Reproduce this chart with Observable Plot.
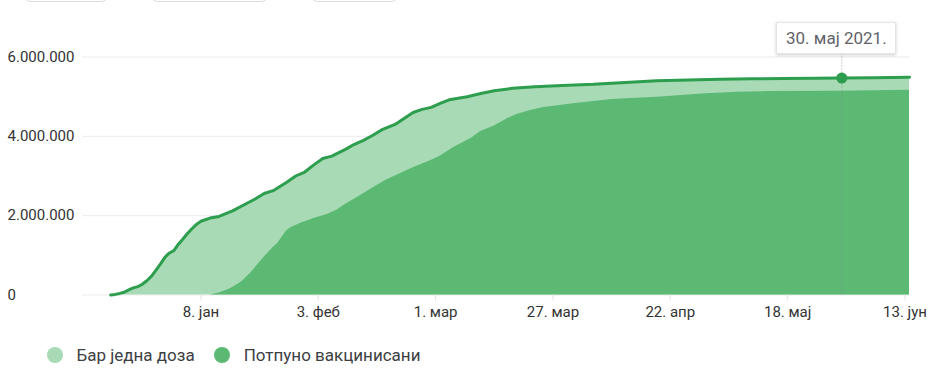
<!DOCTYPE html>
<html>
<head>
<meta charset="utf-8">
<script src="https://cdn.jsdelivr.net/npm/d3@7"></script>
<script src="https://cdn.jsdelivr.net/npm/@observablehq/plot@0.6"></script>
<style>
  html, body { margin: 0; padding: 0; background: #fff; }
  body { width: 940px; height: 374px; overflow: hidden; font-family: Roboto, "Noto Sans", sans-serif; }
  #wrap { position: relative; width: 940px; height: 374px; }
  .btn { position: absolute; top: -30px; height: 32px; border: 1px solid #dadce0; border-radius: 8px; box-sizing: border-box; background: #fff; }
  #tip { position: absolute; height: 32px; box-sizing: border-box; background: #fff; border: 1px solid #e6e6e6;
         box-shadow: 0 1px 3px rgba(60,64,67,0.25); color: #5f6368; font-size: 17px; line-height: 30px; text-align: center; white-space: nowrap; }
  #legend { position: absolute; left: 46.5px; top: 344px; height: 22px; display: flex; align-items: center; font-size: 17px; color: #3c4043; }
  .sw { width: 16px; height: 16px; border-radius: 50%; display: inline-block; margin-right: 14px; }
  .item { display: flex; align-items: center; margin-right: 19px; }
</style>
</head>
<body>
<div id="wrap">
  <div class="btn" style="left:23px;width:86px"></div>
  <div class="btn" style="left:150px;width:119px"></div>
  <div class="btn" style="left:310px;width:89px"></div>
  <div id="chart"></div>
  <div id="tip"></div>
  <div id="legend"></div>
</div>
<script>
// Series: at least one dose (line + light area)
const atLeastOneDates = [
  "2020-12-19","2020-12-20","2020-12-21","2020-12-22","2020-12-23","2020-12-24","2020-12-25","2020-12-26",
  "2020-12-27","2020-12-28","2020-12-29","2020-12-30","2020-12-31","2021-01-01","2021-01-02","2021-01-03",
  "2021-01-04","2021-01-05","2021-01-06","2021-01-07","2021-01-08","2021-01-10","2021-01-12","2021-01-15",
  "2021-01-18","2021-01-20","2021-01-22","2021-01-24","2021-01-27","2021-01-29","2021-01-31","2021-02-02",
  "2021-02-04","2021-02-06","2021-02-09","2021-02-11","2021-02-13","2021-02-15","2021-02-17","2021-02-20",
  "2021-02-22","2021-02-24","2021-02-26","2021-02-28","2021-03-02","2021-03-04","2021-03-08","2021-03-11",
  "2021-03-14","2021-03-18","2021-03-23","2021-03-29","2021-04-05","2021-04-12","2021-04-19","2021-04-26",
  "2021-05-03","2021-05-10","2021-05-17","2021-05-24","2021-05-30","2021-06-06","2021-06-14"
];
const atLeastOneValues = [
  0, 15000, 40000, 70000, 130000, 180000, 210000, 270000,
  360000, 470000, 620000, 780000, 950000, 1060000, 1120000, 1280000,
  1410000, 1550000, 1670000, 1780000, 1860000, 1940000, 1980000, 2120000,
  2300000, 2420000, 2560000, 2630000, 2840000, 3000000, 3100000, 3280000,
  3440000, 3500000, 3670000, 3800000, 3900000, 4020000, 4160000, 4300000,
  4450000, 4600000, 4680000, 4730000, 4830000, 4920000, 5000000, 5080000,
  5150000, 5210000, 5250000, 5280000, 5310000, 5360000, 5400000, 5420000,
  5440000, 5450000, 5460000, 5465000, 5470000, 5480000, 5490000
];
// Series: fully vaccinated (dark area)
const fullyDates = [
  "2021-01-10","2021-01-12","2021-01-14","2021-01-15","2021-01-17","2021-01-19","2021-01-21","2021-01-22",
  "2021-01-24","2021-01-25","2021-01-27","2021-01-28","2021-01-30","2021-02-02","2021-02-05","2021-02-07",
  "2021-02-09","2021-02-13","2021-02-16","2021-02-18","2021-02-21","2021-02-24","2021-02-28","2021-03-02",
  "2021-03-05","2021-03-09","2021-03-11","2021-03-14","2021-03-17","2021-03-19","2021-03-22","2021-03-25",
  "2021-04-01","2021-04-09","2021-04-20","2021-04-29","2021-05-07","2021-05-14","2021-05-29","2021-06-14"
];
const fullyValues = [
  0, 50000, 130000, 190000, 330000, 550000, 820000, 950000,
  1200000, 1300000, 1620000, 1700000, 1800000, 1930000, 2030000, 2130000,
  2280000, 2550000, 2760000, 2890000, 3050000, 3210000, 3390000, 3500000,
  3720000, 3960000, 4120000, 4260000, 4450000, 4550000, 4650000, 4730000,
  4830000, 4930000, 4990000, 5070000, 5110000, 5130000, 5135000, 5160000
];
const seriesNames = ["Бар једна доза", "Потпуно вакцинисани"];
const xTickDates = ["2021-01-08","2021-02-03","2021-03-01","2021-03-27","2021-04-22","2021-05-18","2021-06-13"];
const xTickLabels = ["8. јан","3. феб","1. мар","27. мар","22. апр","18. мај","13. јун"];
const yTicks = [0, 2000000, 4000000, 6000000];
const yTickLabels = ["0","2.000.000","4.000.000","6.000.000"];
const hoverDateStr = "2021-05-30";
const hoverLabel = "30. мај 2021.";

const colLight = "#a8dab5", colDark = "#5bb974", colLine = "#2d9d4e";
const parse = s => new Date(s + "T00:00:00Z");
const a1 = atLeastOneDates.map((d, i) => ({date: parse(d), value: atLeastOneValues[i]}));
const full = fullyDates.map((d, i) => ({date: parse(d), value: fullyValues[i]}));
const xt = xTickDates.map(parse);
const hoverDate = parse(hoverDateStr);
const hoverPoint = a1.filter(d => +d.date === +hoverDate);

const chart = Plot.plot({
  width: 940, height: 330,
  marginLeft: 82, marginRight: 31, marginTop: 56.5, marginBottom: 35.5,
  style: {fontFamily: "Roboto, sans-serif", fontSize: "15px", color: "#3c4043", background: "transparent", overflow: "visible"},
  x: {type: "utc", domain: [new Date(Date.UTC(2020, 11, 12, 18)), new Date(Date.UTC(2021, 5, 14))]},
  y: {domain: [0, 6000000]},
  marks: [
    Plot.gridY(yTicks, {stroke: "#ebebeb", strokeOpacity: 1}),
    Plot.areaY(a1, {x: "date", y: "value", fill: colLight}),
    Plot.areaY(full, {x: "date", y: "value", fill: colDark}),
    Plot.lineY(a1, {x: "date", y: "value", stroke: colLine, strokeWidth: 3, strokeLinejoin: "round"}),
    Plot.ruleX([hoverDate], {y1: 0, y2: 6100000, stroke: "#8a8f94", strokeOpacity: 0.8, strokeDasharray: "1,2"}),
    Plot.dot(hoverPoint, {x: "date", y: "value", r: 5.5, fill: colLine, stroke: "none"}),
    Plot.axisY(yTicks, {tickSize: 0, tickPadding: 0, textAnchor: "start", dx: -75, label: null,
      fill: "#333", tickFormat: d => yTickLabels[yTicks.indexOf(d)]}),
    Plot.axisX(xt, {tickSize: 6, tickPadding: 5, label: null, stroke: "#e3e3e3", fill: "#333",
      tickFormat: d => xTickLabels[xt.findIndex(t => +t === +d)]})
  ]
});
document.getElementById("chart").appendChild(chart);

// tooltip positioned through the chart's x scale
const hx = chart.scale("x").apply(hoverDate);
const tip = document.getElementById("tip");
tip.textContent = hoverLabel;
tip.style.width = "120px";
tip.style.left = (hx - 65) + "px";
tip.style.top = "22px";

// legend
const legend = document.getElementById("legend");
[colLight, colDark].forEach((c, i) => {
  const it = document.createElement("div");
  it.className = "item";
  it.innerHTML = `<span class="sw" style="background:${c}"></span><span>${seriesNames[i]}</span>`;
  legend.appendChild(it);
});
</script>
</body>
</html>
